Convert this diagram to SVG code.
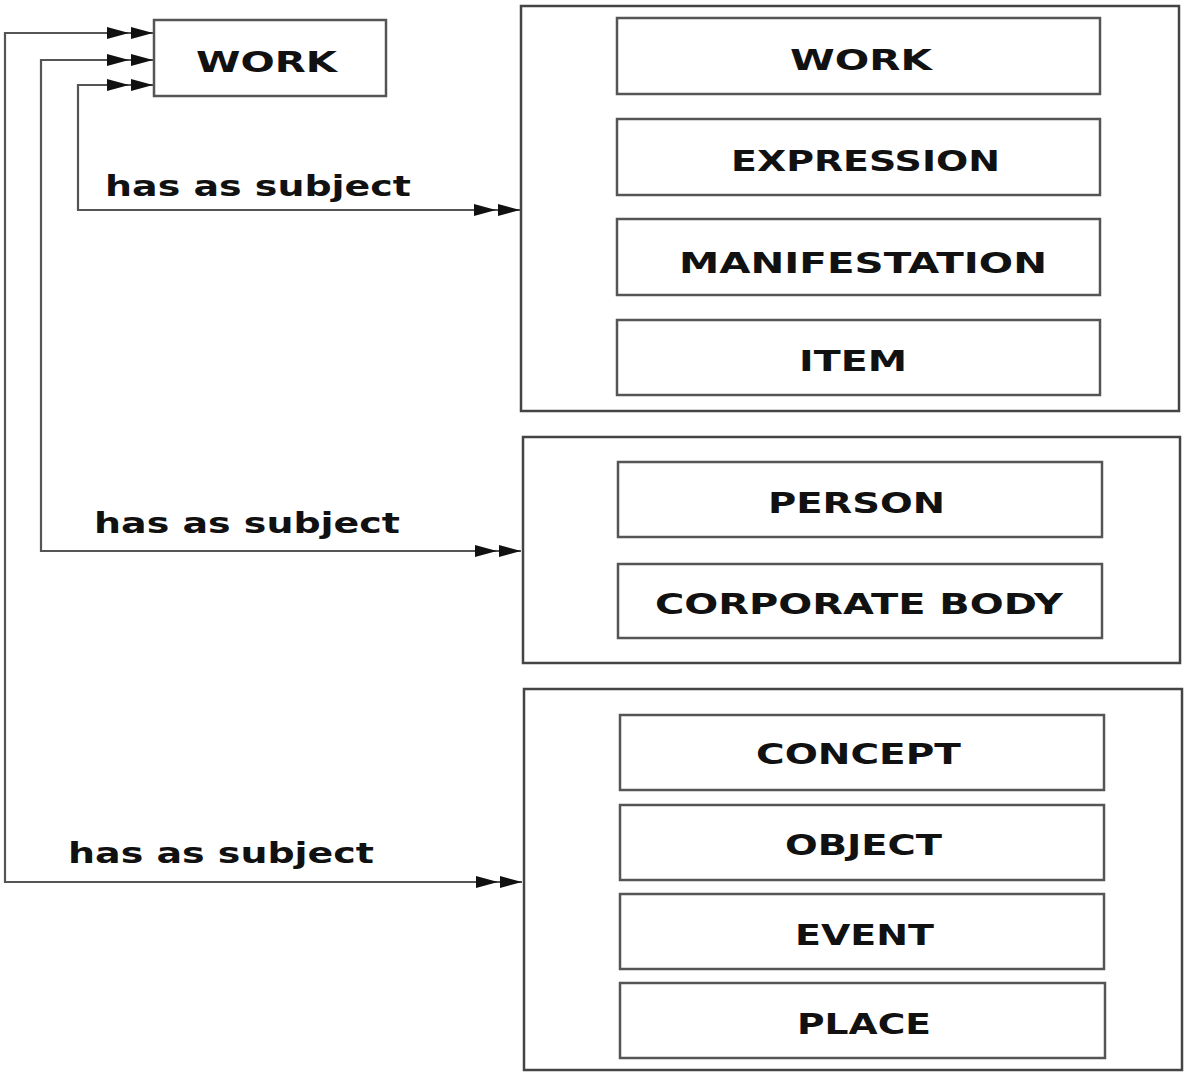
<svg xmlns="http://www.w3.org/2000/svg" width="1192" height="1072" viewBox="0 0 1192 1072">
<defs>
<marker id="dbl" markerWidth="48" markerHeight="14" refX="46" refY="7" orient="auto-start-reverse" markerUnits="userSpaceOnUse">
<path d="M0,1 L22,7 L0,13 Z M24,1 L46,7 L24,13 Z" fill="#111"/>
</marker>
<style>
.grp{fill:none;stroke:#444;stroke-width:2.5}
.box{fill:#fff;stroke:#555;stroke-width:2.5}
.lbl{font-family:"DejaVu Sans",Verdana,sans-serif;font-weight:bold;font-size:29px;fill:#111}
.con{fill:none;stroke:#555;stroke-width:2.2}
</style>
</defs>
<rect width="1192" height="1072" fill="#fff"/>
<g id="work-src">
<rect class="box" x="154" y="20" width="232" height="76"/>
<text class="lbl" x="196" y="72" textLength="141" lengthAdjust="spacingAndGlyphs">WORK</text>
</g>
<g id="group1">
<rect class="grp" x="521" y="6" width="658" height="405"/>
<g id="g1-work"><rect class="box" x="617" y="18" width="483" height="76"/><text class="lbl" x="790" y="70" textLength="142" lengthAdjust="spacingAndGlyphs">WORK</text></g>
<g id="g1-expression"><rect class="box" x="617" y="119" width="483" height="76"/><text class="lbl" x="731" y="171" textLength="269" lengthAdjust="spacingAndGlyphs">EXPRESSION</text></g>
<g id="g1-manifestation"><rect class="box" x="617" y="219" width="483" height="76"/><text class="lbl" x="679" y="273" textLength="368" lengthAdjust="spacingAndGlyphs">MANIFESTATION</text></g>
<g id="g1-item"><rect class="box" x="617" y="320" width="483" height="75"/><text class="lbl" x="799" y="371" textLength="108" lengthAdjust="spacingAndGlyphs">ITEM</text></g>
</g>
<g id="group2">
<rect class="grp" x="523" y="437" width="657" height="226"/>
<g id="g2-person"><rect class="box" x="618" y="462" width="484" height="75"/><text class="lbl" x="768" y="513" textLength="177" lengthAdjust="spacingAndGlyphs">PERSON</text></g>
<g id="g2-corporate"><rect class="box" x="618" y="564" width="484" height="74"/><text class="lbl" x="655" y="614" textLength="408" lengthAdjust="spacingAndGlyphs">CORPORATE BODY</text></g>
</g>
<g id="group3">
<rect class="grp" x="524" y="689" width="658" height="381" stroke-width="3.5" stroke="#333"/>
<g id="g3-concept"><rect class="box" x="620" y="715" width="484" height="75"/><text class="lbl" x="756" y="764" textLength="205" lengthAdjust="spacingAndGlyphs">CONCEPT</text></g>
<g id="g3-object"><rect class="box" x="620" y="805" width="484" height="75"/><text class="lbl" x="785" y="855" textLength="157" lengthAdjust="spacingAndGlyphs">OBJECT</text></g>
<g id="g3-event"><rect class="box" x="620" y="894" width="484" height="75"/><text class="lbl" x="795" y="945" textLength="139" lengthAdjust="spacingAndGlyphs">EVENT</text></g>
<g id="g3-place"><rect class="box" x="620" y="983" width="485" height="75"/><text class="lbl" x="797" y="1034" textLength="134" lengthAdjust="spacingAndGlyphs">PLACE</text></g>
</g>
<g id="connectors">
<path class="con" d="M153,85 L78,85 L78,210 L520,210" marker-start="url(#dbl)" marker-end="url(#dbl)"/>
<path class="con" d="M153,60 L41,60 L41,551 L521,551" marker-start="url(#dbl)" marker-end="url(#dbl)"/>
<path class="con" d="M153,33 L5,33 L5,882 L522,882" marker-start="url(#dbl)" marker-end="url(#dbl)"/>
<text class="lbl" x="105" y="196" textLength="306" lengthAdjust="spacingAndGlyphs">has as subject</text>
<text class="lbl" x="94" y="533" textLength="306" lengthAdjust="spacingAndGlyphs">has as subject</text>
<text class="lbl" x="68" y="863" textLength="306" lengthAdjust="spacingAndGlyphs">has as subject</text>
</g>
</svg>
